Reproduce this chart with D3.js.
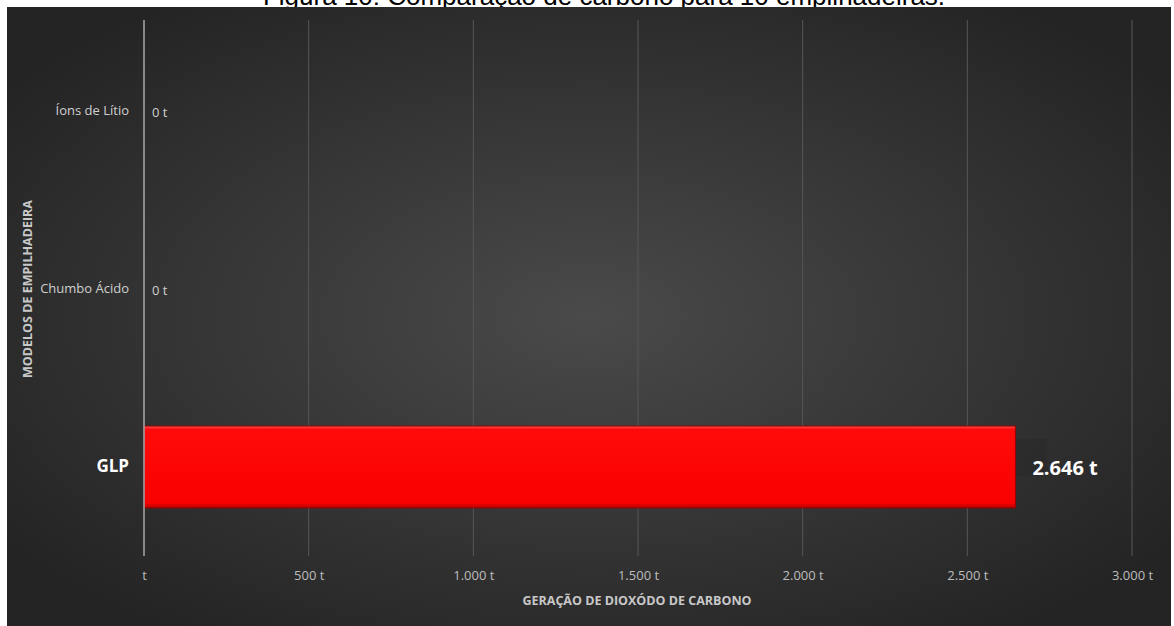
<!DOCTYPE html>
<html><head><meta charset="utf-8">
<script src="https://cdn.jsdelivr.net/npm/d3@7"></script>
<style>body{margin:0;background:#fff;overflow:hidden}svg{display:block}</style>
</head><body>
<script>
const categories = ["Íons de Lítio", "Chumbo Ácido", "GLP"];
const values = [0, 0, 2646];
const tickValues = [0, 500, 1000, 1500, 2000, 2500, 3000];
const title = "Figura 10: Comparação de carbono para 10 empilhadeiras.";
const xTitle = "GERAÇÃO DE DIOXÓDO DE CARBONO";
const yTitle = "MODELOS DE EMPILHADEIRA";

const W = 1174, H = 626;
const fmt = v => v === 0 ? "t" : d3.format(",")(v).replace(/,/g, ".") + " t";
const fmtVal = v => d3.format(",")(v).replace(/,/g, ".") + " t";

const svg = d3.select("body").append("svg").attr("width", W).attr("height", H);
const defs = svg.append("defs");
const rg = defs.append("radialGradient").attr("id", "bg").attr("cx", "50%").attr("cy", "50%").attr("r", "62%");
rg.append("stop").attr("offset", "0%").attr("stop-color", "#4a4a4a");
rg.append("stop").attr("offset", "100%").attr("stop-color", "#242424");
const bgR = defs.append("linearGradient").attr("id", "bar").attr("x1", 0).attr("x2", 0).attr("y1", 0).attr("y2", 1);
bgR.append("stop").attr("offset", "0%").attr("stop-color", "#ff5a5a");
bgR.append("stop").attr("offset", "4%").attr("stop-color", "#ff0a0a");
bgR.append("stop").attr("offset", "94%").attr("stop-color", "#fa0000");
bgR.append("stop").attr("offset", "100%").attr("stop-color", "#b00000");

svg.append("text").attr("x", 604).attr("y", 5).attr("text-anchor", "middle")
  .attr("font-family", "Liberation Sans, Arial").attr("font-size", 26).attr("fill", "#000").text(title);

svg.append("rect").attr("x", 7).attr("y", 7).attr("width", 1164).attr("height", 619).attr("fill", "url(#bg)");

const x = d3.scaleLinear().domain([0, 3000]).range([144, 1132]);
const y = d3.scaleBand().domain(categories).range([22, 556]).paddingInner(0.54).paddingOuter(0.27);

const font = "Open Sans, Lato, sans-serif";

// gridlines
svg.append("g").selectAll("line").data(tickValues.slice(1)).join("line")
  .attr("x1", d => x(d)).attr("x2", d => x(d)).attr("y1", 20).attr("y2", 556)
  .attr("stroke", "#575757").attr("stroke-width", 1);

// x axis tick labels
const xa = svg.append("g").attr("transform", "translate(0,556)")
  .call(d3.axisBottom(x).tickValues(tickValues).tickFormat(fmt).tickSize(0).tickPadding(15));
xa.select(".domain").remove();
xa.selectAll("text").attr("font-family", font).attr("font-size", 13).attr("fill", "#bdbdbd");

// bar
svg.append("g").selectAll("rect").data(values.map((v, i) => ({v, c: categories[i]})).filter(d => d.v > 0)).join("rect")
  .attr("x", x(0)).attr("y", d => y(d.c)).attr("width", d => x(d.v) - x(0)).attr("height", y.bandwidth())
  .attr("fill", "url(#bar)").attr("stroke", "#9a0000").attr("stroke-width", 1);

// y axis line
svg.append("line").attr("x1", 144).attr("x2", 144).attr("y1", 20).attr("y2", 556)
  .attr("stroke", "#a8a8a8").attr("stroke-width", 1.5);

// category labels
const ya = svg.append("g").attr("transform", "translate(144,0)")
  .call(d3.axisLeft(y).tickSize(0).tickPadding(15));
ya.select(".domain").remove();
ya.selectAll("text").attr("font-family", font)
  .attr("font-size", d => d === "GLP" ? 17 : 13)
  .attr("font-weight", d => d === "GLP" ? "bold" : "normal")
  .attr("fill", d => d === "GLP" ? "#ffffff" : "#d0d0d0");

// value labels
const vl = svg.append("g").selectAll("g").data(values.map((v, i) => ({v, c: categories[i]}))).join("g");
vl.filter(d => d.v > 0).append("rect")
  .attr("x", d => x(d.v) + 1).attr("y", d => y(d.c) + y.bandwidth() / 2 - 28)
  .attr("width", 30).attr("height", 37).attr("fill", "#2a2a2a").attr("opacity", 0.6);
vl.append("text")
  .attr("x", d => x(d.v) + (d.v > 0 ? 17 : 8)).attr("y", d => y(d.c) + y.bandwidth() / 2 + 1)
  .attr("dy", "0.35em")
  .attr("font-family", font)
  .attr("font-size", d => d.v > 0 ? 20 : 13)
  .attr("font-weight", d => d.v > 0 ? "bold" : "normal")
  .attr("fill", d => d.v > 0 ? "#ffffff" : "#d0d0d0")
  .text(d => fmtVal(d.v));

// axis titles
svg.append("text").attr("x", 637).attr("y", 605).attr("text-anchor", "middle")
  .attr("font-family", font).attr("font-size", 12.5).attr("font-weight", "bold").attr("fill", "#c8c8c8").text(xTitle);
svg.append("text").attr("transform", "translate(32,289) rotate(-90)").attr("text-anchor", "middle")
  .attr("font-family", font).attr("font-size", 12.5).attr("font-weight", "bold").attr("fill", "#c8c8c8").text(yTitle);
</script>
</body></html>
